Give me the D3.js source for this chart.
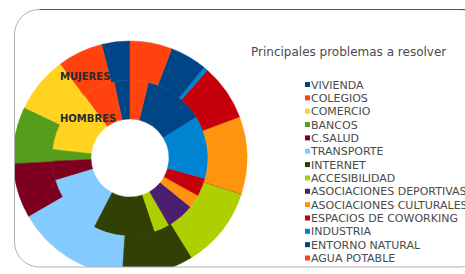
<!DOCTYPE html>
<html>
<head>
<meta charset="utf-8">
<script src="https://cdn.jsdelivr.net/npm/d3@7"></script>
<style>
  html, body { margin: 0; padding: 0; background: #ffffff; }
  svg { display: block; }
</style>
</head>
<body>
<svg id="chart" width="465" height="274"></svg>
<script>
const title = "Principales problemas a resolver";
const categories = ["VIVIENDA", "COLEGIOS", "COMERCIO", "BANCOS", "C.SALUD", "TRANSPORTE", "INTERNET",
  "ACCESIBILIDAD", "ASOCIACIONES DEPORTIVAS", "ASOCIACIONES CULTURALES", "ESPACIOS DE COWORKING",
  "INDUSTRIA", "ENTORNO NATURAL", "AGUA POTABLE"];
const seriesNames = ["HOMBRES", "MUJERES"];
// percentages
const hombres = [3.3, 6.8, 13.2, 2.4, 4.0, 12.8, 12.8, 3.2, 5.8, 2.8, 3.8, 13.1, 12.4, 3.8];
const mujeres = [3.9, 6.3, 7.8, 7.8, 7.6, 15.6, 9.9, 11.2, 0.0, 10.7, 7.8, 0.6, 5.1, 5.8];
const colors = ["#004586", "#ff420e", "#ffd320", "#579d1c", "#7e0021", "#83caff", "#314004",
  "#aecf00", "#4b1f6f", "#ff950e", "#c5000b", "#0084d1", "#004586", "#ff420e"];

const svg = d3.select("#chart");
const W = 465, H = 274;

// frame
const fx = 14.5, fy = 9.5, fw = 470, fh = 257.5, fr = 25;
const defs = svg.append("defs");
defs.append("clipPath").attr("id", "frameClip")
  .append("rect").attr("x", fx).attr("y", fy).attr("width", fw).attr("height", fh)
  .attr("rx", fr).attr("ry", fr);

const cx = 130, cy = 158;
const r0 = 39, r1 = 78, r2 = 117;

const color = d3.scaleOrdinal().domain(categories).range(colors);
const pie = d3.pie().sort(null).startAngle(0).endAngle(-2 * Math.PI).value(d => d.v);

const rings = [
  { name: seriesNames[0], values: hombres, inner: r0, outer: r1 },
  { name: seriesNames[1], values: mujeres, inner: r1, outer: r2 }
];

const g = svg.append("g").attr("clip-path", "url(#frameClip)")
  .append("g").attr("transform", `translate(${cx},${cy})`);

rings.forEach(ring => {
  const arc = d3.arc().innerRadius(ring.inner).outerRadius(ring.outer);
  const data = pie(ring.values.map((v, i) => ({ v, c: categories[i] })));
  g.append("g").selectAll("path").data(data).join("path")
    .attr("d", arc)
    .attr("fill", d => color(d.data.c))
    .attr("stroke", d => color(d.data.c))
    .attr("stroke-width", 0.5);
});

// series labels
svg.append("text").attr("x", 60).attr("y", 80).text(seriesNames[1])
  .attr("font-family", "DejaVu Sans").attr("font-size", 10).attr("font-weight", "bold").attr("fill", "#2a2a2a");
svg.append("text").attr("x", 60).attr("y", 122).text(seriesNames[0])
  .attr("font-family", "DejaVu Sans").attr("font-size", 10).attr("font-weight", "bold").attr("fill", "#2a2a2a");

// frame stroke
svg.append("rect").attr("x", fx).attr("y", fy).attr("width", fw).attr("height", fh)
  .attr("rx", fr).attr("ry", fr).attr("fill", "none").attr("stroke", "#b0b0b0").attr("stroke-width", 1);
svg.append("line").attr("x1", fx + fr).attr("x2", W).attr("y1", fy).attr("y2", fy)
  .attr("stroke", "#555").attr("stroke-width", 1.2);

// title
svg.append("text").attr("x", 251).attr("y", 56).text(title)
  .attr("font-family", "DejaVu Sans").attr("font-size", 12).attr("fill", "#4a4a4a");

// legend
const ly = d3.scalePoint().domain(categories).range([84.5, 258]);
const leg = svg.append("g").selectAll("g").data(categories).join("g")
  .attr("transform", d => `translate(305,${ly(d)})`);
leg.append("rect").attr("x", 0).attr("y", -2.5).attr("width", 5).attr("height", 5)
  .attr("fill", d => color(d));
leg.append("text").attr("x", 6).attr("y", 4).text(d => d)
  .attr("font-family", "DejaVu Sans").attr("font-size", 11).attr("fill", "#4a4a4a");
</script>
</body>
</html>
